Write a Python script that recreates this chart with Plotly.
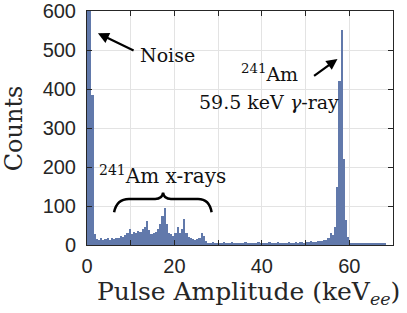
import plotly.graph_objects as go

# Histogram: 0.5 keV bins from 0 to 70 keV
bin_width = 0.5
bin_start = 0.0
counts = [
    1500, 900, 385, 28, 15, 13, 17, 12, 16, 18,
    13, 17, 15, 19, 17, 22, 20, 26, 30, 40,
    28, 34, 30, 36, 33, 40, 45, 62, 38, 27,
    30, 34, 40, 55, 75, 95, 55, 30, 27, 24,
    30, 46, 32, 40, 66, 32, 20, 18, 15, 14,
    16, 19, 30, 22, 9,
    6, 5, 7, 5, 6, 4, 6, 7, 5, 6,
    5, 7, 6, 5, 4, 6, 5, 7, 6, 5,
    6, 4, 5, 7, 6, 5, 6, 5, 7, 6,
    5, 6, 7, 5, 6, 6, 5, 7, 6, 5,
    7, 6, 8, 7, 6, 8, 7, 9, 8, 7,
    9, 11, 10, 13, 14, 18, 30, 26, 45, 150,
    420, 551, 220, 65, 20,
    6, 5, 4, 6, 5, 5, 4, 6, 5, 4,
    5, 6, 4, 5, 5, 4, 5,
]
bin_centers = [bin_start + bin_width * (i + 0.5) for i in range(len(counts))]

x_tick_vals = [0, 20, 40, 60]
x_minor_vals = [10, 30, 50]
y_tick_vals = [0, 100, 200, 300, 400, 500, 600]

BAR = "#6179ab"
AX = "#262626"
GRID = "#e3e3e3"
SERIF = "DejaVu Serif"
SANS = "Liberation Sans"

fig = go.Figure()
fig.add_trace(go.Bar(
    x=bin_centers, y=counts, width=bin_width,
    marker=dict(color=BAR, line=dict(width=0)),
    showlegend=False, hoverinfo="skip",
))

axis_common = dict(
    showline=True, linecolor=AX, linewidth=1, mirror="ticks",
    ticks="inside", ticklen=5, tickcolor=AX, tickwidth=1,
    showgrid=True, gridcolor=GRID, gridwidth=1, zeroline=False,
    tickfont=dict(family=SANS, size=20, color=AX),
    automargin=False,
)

fig.update_layout(
    width=407, height=313,
    margin=dict(l=87, r=14, t=11, b=68),
    paper_bgcolor="white", plot_bgcolor="white",
    bargap=0,
    xaxis=dict(range=[0, 70], tickmode="array", tickvals=x_tick_vals,
               ticklabelstandoff=3,
               minor=dict(tickmode="array", tickvals=x_minor_vals, ticks="inside",
                          ticklen=5, tickcolor=AX, showgrid=True, gridcolor=GRID,
                          gridwidth=1),
               **axis_common),
    yaxis=dict(range=[0, 600], tickmode="array", tickvals=y_tick_vals,
               ticklabelstandoff=6, **axis_common),
)

# Axis titles
fig.add_annotation(x=0.527, y=-0.205, xref="paper", yref="paper", yanchor="middle",
                   text="Pulse Amplitude (keV<sub><i>ee</i></sub>)", showarrow=False,
                   font=dict(family=SERIF, size=25, color=AX))
fig.add_annotation(x=-0.29, y=0.5, xref="paper", yref="paper", textangle=-90,
                   text="Counts", showarrow=False,
                   font=dict(family=SERIF, size=24, color=AX))

ann_font = dict(family=SERIF, size=19, color="#111111")
# Arrows
fig.add_annotation(x=2.5, y=543, ax=11, ay=497, xref="x", yref="y", axref="x", ayref="y",
                   text="", showarrow=True, arrowhead=2, arrowsize=1, arrowwidth=2.2,
                   arrowcolor="black")
fig.add_annotation(x=57.3, y=477, ax=51.6, ay=431, xref="x", yref="y", axref="x", ayref="y",
                   text="", showarrow=True, arrowhead=2, arrowsize=1, arrowwidth=2.2,
                   arrowcolor="black")
# Texts
fig.add_annotation(x=18.5, y=487, xref="x", yref="y", text="Noise", showarrow=False,
                   font=ann_font)
fig.add_annotation(x=41.8, y=440, xref="x", yref="y", text="<sup>241</sup>Am",
                   showarrow=False, font=ann_font)
fig.add_annotation(x=41.7, y=366, xref="x", yref="y", text="59.5 keV <i>γ</i>-ray",
                   showarrow=False, font=ann_font)
fig.add_annotation(x=17.2, y=180, xref="x", yref="y", text="<sup>241</sup>Am x-rays",
                   showarrow=False, font=dict(family=SERIF, size=20, color="#111111"))

# Curly brace over the x-ray region
fig.add_shape(type="path", xref="x", yref="y",
              path="M 6.2,84 Q 6.8,118 9.6,118 L 15.6,118 Q 17.2,118 17.4,134 "
                   "Q 17.6,118 19.2,118 L 25.4,118 Q 28,118 28.5,84",
              line=dict(color="black", width=2.5))

fig.write_html("out.html", config={"displayModeBar": False},
               post_script="document.body.style.margin='0';document.body.style.overflow='hidden';")
